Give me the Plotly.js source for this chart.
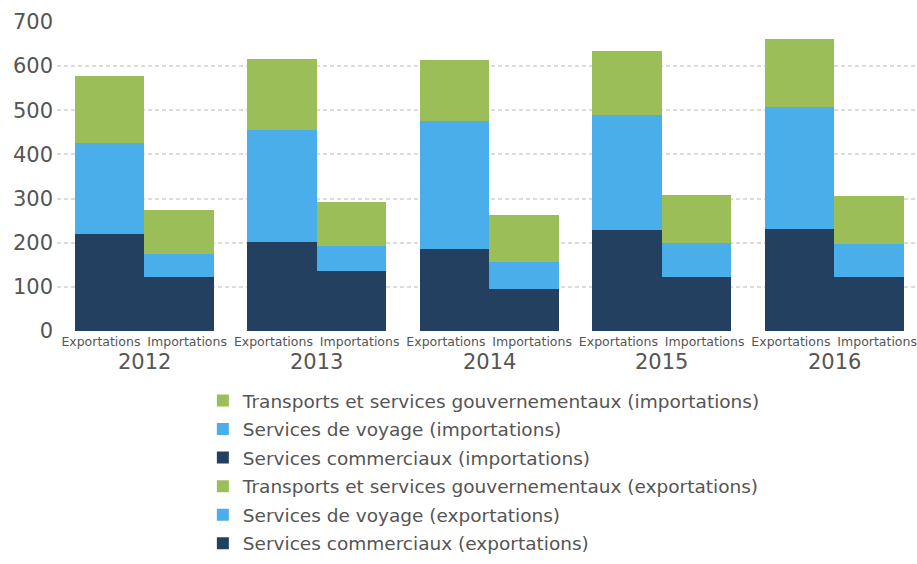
<!DOCTYPE html>
<html>
<head>
<meta charset="utf-8">
<script src="https://cdn.plot.ly/plotly-3.0.1.min.js"></script>
<style>
  html, body { margin: 0; padding: 0; background: #fff; }
  #chart { width: 917px; height: 564px; }
</style>
</head>
<body>
<div id="chart"></div>
<script>
// values (millions)
var years = ['2012', '2013', '2014', '2015', '2016'];
var innerLabels = ['Exportations', 'Importations'];

var expCommercial = [220, 202, 186, 229, 231];
var expTravel = [206, 254, 289, 261, 277];
var expTransport = [152, 161, 140, 145, 154];

var impCommercial = [122, 136, 95, 122, 122];
var impTravel = [53, 57, 62, 77, 76];
var impTransport = [99, 99, 106, 109, 108];

var names = [
	'Services commerciaux (exportations)',
	'Services de voyage (exportations)',
	'Transports et services gouvernementaux (exportations)',
	'Services commerciaux (importations)',
	'Services de voyage (importations)',
	'Transports et services gouvernementaux (importations)'
];

var DARK = '#234060';
var BLUE = '#4aaeea';
var GREEN = '#9bbe59';
var W = 0.806;

// one category per (year, side), interleaved
var cats = [], catText = [];
for (var i = 0; i < years.length; i++) {
	for (var j = 0; j < innerLabels.length; j++) {
		cats.push(years[i] + ' ' + innerLabels[j]);
		catText.push(innerLabels[j]);
	}
}

function xFor(side) {
	return years.map(function (y) { return y + ' ' + innerLabels[side]; });
}

function makeTrace(vals, k, color, side) {
	return {
		type: 'bar',
		x: xFor(side),
		y: vals,
		name: names[k],
		legendgroup: 'g' + k,
		legendrank: 6 - k,
		marker: { color: color, line: { width: 0 } },
		width: W,
		offset: side == 0 ? 0.5 - W : -0.5,
		hoverinfo: 'y+name'
	};
}

var data = [
	makeTrace(expCommercial, 0, DARK, 0),
	makeTrace(expTravel, 1, BLUE, 0),
	makeTrace(expTransport, 2, GREEN, 0),
	makeTrace(impCommercial, 3, DARK, 1),
	makeTrace(impTravel, 4, BLUE, 1),
	makeTrace(impTransport, 5, GREEN, 1)
];

// year labels under each pair of bars (between the two categories)
var yearNotes = years.map(function (y, i) {
	return {
		text: y,
		xref: 'x', x: 2 * i + 0.5,
		yref: 'paper', y: -0.1,
		xanchor: 'center', yanchor: 'middle',
		showarrow: false,
		font: { size: 21, color: '#555' }
	};
});

var layout = {
	width: 917,
	height: 564,
	margin: { l: 57, r: 2, t: 22, b: 233 },
	paper_bgcolor: '#fff',
	plot_bgcolor: '#fff',
	barmode: 'stack',
	font: { family: 'DejaVu Sans, Verdana, sans-serif', color: '#555' },
	xaxis: {
		type: 'category',
		categoryorder: 'array',
		categoryarray: cats,
		tickmode: 'array',
		tickvals: cats,
		ticktext: catText,
		range: [-0.509, 9.439],
		showgrid: false,
		showline: false,
		zeroline: false,
		ticks: '',
		tickangle: 0,
		tickfont: { size: 12.5, color: '#555' },
		ticklabelstandoff: 1
	},
	yaxis: {
		range: [0, 700],
		dtick: 100,
		showgrid: true,
		gridcolor: '#dcdcdc',
		gridwidth: 2,
		griddash: '4px,3px',
		zeroline: false,
		showline: false,
		ticks: '',
		tickfont: { size: 21, color: '#555' },
		ticklabelstandoff: 3
	},
	annotations: yearNotes,
	showlegend: true,
	legend: {
		orientation: 'v',
		traceorder: 'grouped',
		tracegroupgap: 1.5,
		x: 0.17,
		xanchor: 'left',
		y: -0.165,
		yanchor: 'top',
		font: { size: 18.5, color: '#555' },
		bgcolor: 'rgba(0,0,0,0)'
	}
};

Plotly.newPlot('chart', data, layout, { displayModeBar: false });
</script>
</body>
</html>
